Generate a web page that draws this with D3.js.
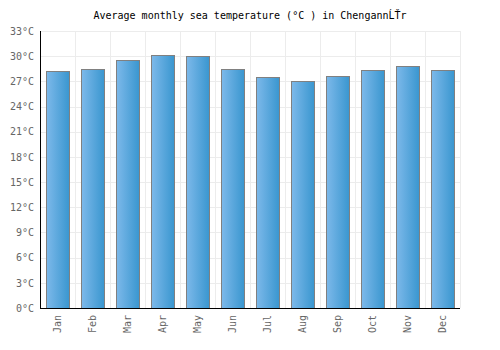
<!DOCTYPE html>
<meta charset="utf-8">
<html>
<head>
<style>
  body { margin: 0; background: #fff; }
  text { font-family: "DejaVu Sans Mono", monospace; }
</style>
</head>
<body>
<div id="chart"></div>
<script src="https://d3js.org/d3.v7.min.js"></script>
<script>
// values
var months = ["Jan","Feb","Mar","Apr","May","Jun","Jul","Aug","Sep","Oct","Nov","Dec"]
var temps = [28.2, 28.5, 29.5, 30.2, 30.0, 28.5, 27.5, 27.1, 27.6, 28.4, 28.8, 28.4]
var yTicks = [0, 3, 6, 9, 12, 15, 18, 21, 24, 27, 30, 33]

var margin = {top: 31, right: 40, bottom: 42, left: 40},
    width = 500 - margin.left - margin.right,
    height = 350 - margin.top - margin.bottom

var svg = d3.select("#chart").append("svg")
    .attr("width", 500)
    .attr("height", 350)

var defs = svg.append("defs")
var grad = defs.append("linearGradient")
    .attr("id", "barGrad")
    .attr("x1", "0%").attr("x2", "100%").attr("y1", "0%").attr("y2", "0%")
grad.append("stop").attr("offset", "0%").attr("stop-color", "#7db9ea")
grad.append("stop").attr("offset", "100%").attr("stop-color", "#3996cf")

svg.append("text")
    .attr("x", 250)
    .attr("y", 19)
    .attr("text-anchor", "middle")
    .style("font-size", "10px")
    .attr("fill", "#000")
    .text("Average monthly sea temperature (°C ) in ChengannĹŤr")

var g = svg.append("g")
    .attr("transform", "translate(" + margin.left + "," + margin.top + ")")

var x = d3.scaleBand()
    .domain(months)
    .range([0, width])
    .paddingInner(0.33)
    .paddingOuter(0.165)

var y = d3.scaleLinear()
    .domain([0, 33])
    .range([height, 0])

// grid lines
g.selectAll(".hgrid")
  .data(yTicks)
  .enter().append("line")
    .attr("x1", 0).attr("x2", width)
    .attr("y1", function(d) { return Math.round(y(d)) + 0.5 })
    .attr("y2", function(d) { return Math.round(y(d)) + 0.5 })
    .attr("stroke", "#ececec")

var step = width / months.length
g.selectAll(".vgrid")
  .data(d3.range(1, months.length + 1))
  .enter().append("line")
    .attr("x1", function(i) { return Math.round(i * step) + 0.5 })
    .attr("x2", function(i) { return Math.round(i * step) + 0.5 })
    .attr("y1", 0).attr("y2", height)
    .attr("stroke", "#ececec")

// bars
g.selectAll(".bar")
  .data(temps)
  .enter().append("rect")
    .attr("x", function(d, i) { return Math.round(x(months[i])) + 0.5 })
    .attr("y", function(d) { return Math.round(y(d)) + 0.5 })
    .attr("width", Math.round(x.bandwidth()))
    .attr("height", function(d) { return height - Math.round(y(d)) })
    .attr("fill", "url(#barGrad)")
    .attr("stroke", "#808080")
    .attr("stroke-width", 1)

// axes
var yAxis = g.append("g")
    .call(d3.axisLeft(y).tickValues(yTicks).tickSize(0).tickPadding(6)
      .tickFormat(function(d) { return d + "°C" }))
yAxis.select(".domain").remove()
yAxis.selectAll("text").style("font-size", "10px").attr("fill", "#666")

var xAxis = g.append("g")
    .attr("transform", "translate(0," + height + ")")
    .call(d3.axisBottom(x).tickSize(0))
xAxis.select(".domain").remove()
xAxis.selectAll("text")
    .style("font-size", "10px")
    .attr("fill", "#666")
    .attr("text-anchor", "end")
    .attr("dy", "0.35em")
    .attr("transform", "translate(0,7) rotate(-90)")
    .attr("x", 0).attr("y", 0)

g.append("line")
    .attr("x1", 0.5).attr("x2", 0.5).attr("y1", 0).attr("y2", height)
    .attr("stroke", "#000")
g.append("line")
    .attr("x1", 0).attr("x2", width).attr("y1", height + 0.5).attr("y2", height + 0.5)
    .attr("stroke", "#000")
</script>
</body>
</html>
